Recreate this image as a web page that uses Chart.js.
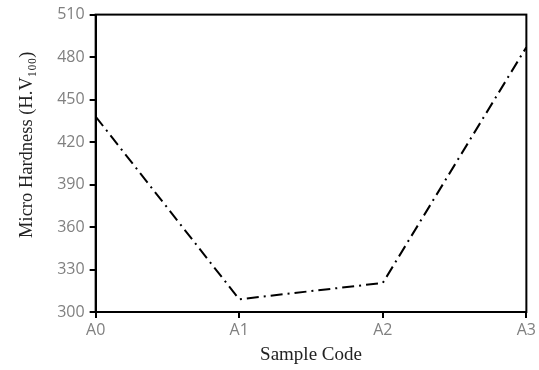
<!DOCTYPE html>
<html>
<head>
<meta charset="utf-8">
<script src="https://cdn.jsdelivr.net/npm/chart.js@4"></script>
<style>
  html, body { margin: 0; padding: 0; background: #fff; }
</style>
</head>
<body>
<canvas id="c" width="539" height="370"></canvas>
<script>
// data
const sampleCodes = ["A0", "A1", "A2", "A3"];
const hardness = [438, 309, 320.5, 487];
const yTicks = [300, 330, 360, 390, 420, 450, 480, 510];

// box round the plot area
const framePlugin = {
  id: "frame",
  afterDraw(chart) {
    const ctx = chart.ctx;
    const { top, bottom, left, right } = chart.chartArea;
    ctx.save();
    ctx.strokeStyle = "#000";
    ctx.lineWidth = 2;
    ctx.strokeRect(left, top, right - left, bottom - top);
    ctx.restore();
  },
};

new Chart(document.getElementById("c"), {
  type: "line",
  data: {
    labels: sampleCodes,
    datasets: [
      {
        data: hardness,
        borderColor: "#000",
        borderWidth: 2,
        borderDash: [12, 5, 2, 5],
        pointRadius: 0,
        tension: 0,
        fill: false,
      },
    ],
  },
  options: {
    responsive: false,
    animation: false,
    plugins: {
      legend: { display: false },
      tooltip: { enabled: false },
    },
    layout: {
      padding: { top: 6, right: 7, bottom: 4, left: 16 },
    },
    scales: {
      x: {
        offset: false,
        grid: {
          drawOnChartArea: false,
          color: "#000",
          tickLength: 6,
          lineWidth: 2,
        },
        border: { color: "#000", width: 2 },
        ticks: {
          color: "#808080",
          font: { family: "Open Sans", size: 16 },
          padding: 3,
        },
        title: {
          display: true,
          text: "Sample Code",
          color: "#222",
          font: { family: "Liberation Serif", size: 19 },
          padding: { top: 0, bottom: 0 },
        },
      },
      y: {
        min: 300,
        max: 510,
        afterBuildTicks(axis) {
          axis.ticks = yTicks.map((v) => ({ value: v }));
        },
        grid: {
          drawOnChartArea: false,
          color: "#000",
          tickLength: 6,
          lineWidth: 2,
        },
        border: { color: "#000", width: 2 },
        ticks: {
          color: "#808080",
          font: { family: "Open Sans", size: 16 },
          padding: 5,
        },
        title: {
          display: true,
          text: "\u2002\u2002\u2002\u2002Micro Hardness (H.V\u2081\u2080\u2080)",
          color: "#222",
          font: { family: "Liberation Serif", size: 18.5 },
          padding: { top: 0, bottom: 14 },
        },
      },
    },
  },
  plugins: [framePlugin],
});
</script>
</body>
</html>
